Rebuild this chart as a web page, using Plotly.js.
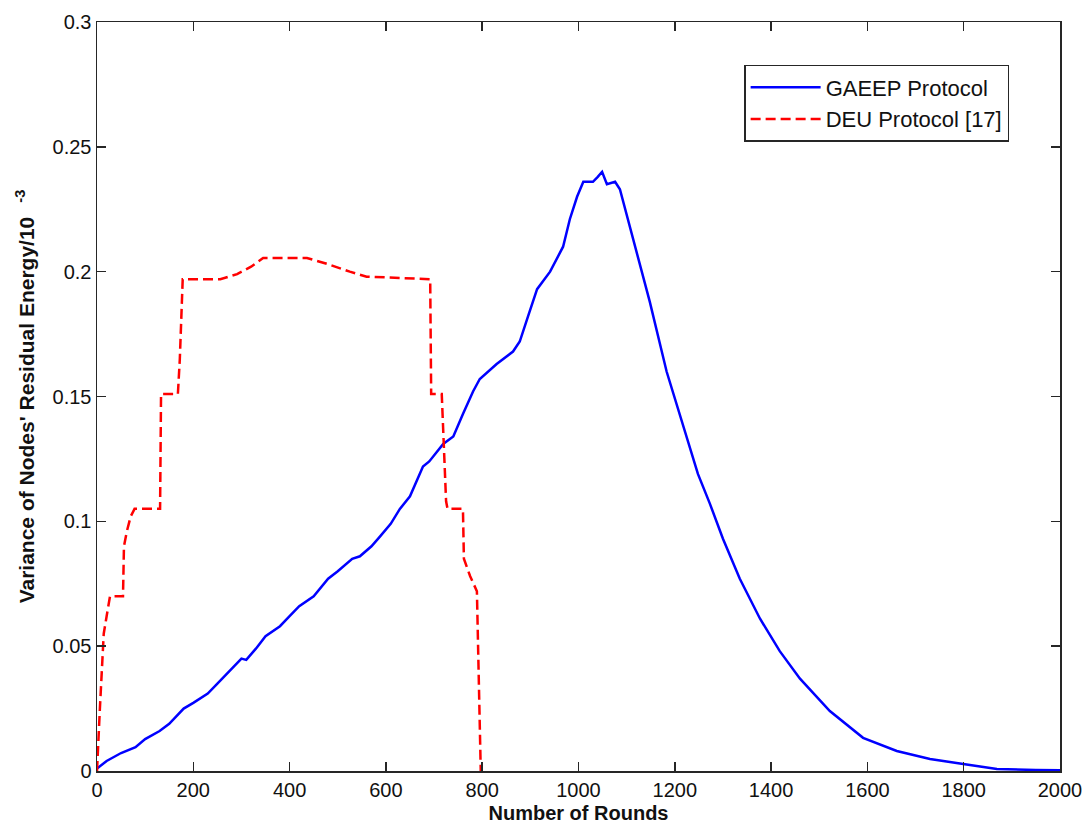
<!DOCTYPE html>
<html>
<head>
<meta charset="utf-8">
<script src="https://cdn.plot.ly/plotly-3.0.1.min.js"></script>
<style>html,body{margin:0;padding:0;background:#fff;}#chart{width:1089px;height:833px;}</style>
</head>
<body>
<div id="chart"></div>
<script>
const gaeepRounds = [0,20,50,80,100,130,150,180,200,230,250,280,300,310,330,350,380,400,420,450,480,500,530,546,570,588,610,629,650,677,690,719,740,760,781,795,830,864,878,895,914,941,968,982,997,1010,1030,1040,1049,1059,1076,1086,1100,1121,1148,1183,1217,1248,1273,1300,1335,1377,1418,1460,1522,1591,1661,1730,1799,1869,1950,2000];
const gaeepValues = [0.001,0.004,0.0072,0.0095,0.0128,0.016,0.0189,0.025,0.0273,0.031,0.035,0.041,0.045,0.0445,0.049,0.054,0.058,0.062,0.066,0.070,0.077,0.080,0.085,0.086,0.090,0.094,0.099,0.105,0.110,0.122,0.124,0.131,0.134,0.143,0.152,0.157,0.163,0.168,0.172,0.182,0.193,0.200,0.210,0.221,0.230,0.236,0.236,0.238,0.240,0.235,0.236,0.233,0.223,0.207,0.188,0.160,0.138,0.119,0.107,0.093,0.077,0.061,0.048,0.037,0.024,0.0133,0.008,0.0048,0.0028,0.0008,0.0004,0.0003];
const deuRounds = [0,3,6,10,14,20,27,54,56,62,70,78,131,133,168,172,176,178,256,291,320,345,436,480,525,560,692,694,716,722,725,728,760,762,775,789,791,797];
const deuValues = [0,0.01,0.025,0.04,0.055,0.062,0.07,0.07,0.09,0.096,0.102,0.105,0.105,0.151,0.151,0.165,0.182,0.197,0.197,0.199,0.202,0.2055,0.2055,0.203,0.200,0.198,0.197,0.151,0.151,0.122,0.108,0.105,0.105,0.085,0.078,0.072,0.051,0];
const xTickVals = [0,200,400,600,800,1000,1200,1400,1600,1800,2000];
const yTickVals = [0,0.05,0.1,0.15,0.2,0.25,0.3];
const yTickText = ["0","0.05","0.1","0.15","0.2","0.25","0.3"];

const axisCommon = {
  showline: true, linecolor: '#262626', linewidth: 1.5, mirror: 'ticks',
  ticks: 'inside', ticklen: 9, tickwidth: 1.5, tickcolor: '#262626',
  showgrid: false, zeroline: false,
  tickfont: {family: 'Liberation Sans, Arial, sans-serif', size: 20, color: '#111'}
};

const data = [
  {x: gaeepRounds, y: gaeepValues, type: 'scatter', mode: 'lines', name: 'GAEEP Protocol',
   line: {color: '#0000ff', width: 2.5}},
  {x: deuRounds, y: deuValues, type: 'scatter', mode: 'lines', name: 'DEU Protocol [17]',
   line: {color: '#ff0000', width: 2.5, dash: '10px,5px'}}
];

const layout = {
  width: 1089, height: 833,
  margin: {l: 97, r: 29, t: 22, b: 62},
  paper_bgcolor: '#fff', plot_bgcolor: '#fff',
  showlegend: true,
  legend: {x: 0.672, y: 0.9426, xanchor: 'left', yanchor: 'top',
    bordercolor: '#262626', borderwidth: 1.5, bgcolor: '#fff',
    font: {family: 'Liberation Sans, Arial, sans-serif', size: 22, color: '#111'},
    itemwidth: 70, tracegroupgap: 4},
  xaxis: Object.assign({}, axisCommon, {
    range: [0, 2000], tickvals: xTickVals,
    title: {text: 'Number of Rounds', standoff: 6,
      font: {family: 'Liberation Sans, Arial, sans-serif', size: 20, color: '#111', weight: 'bold'}}
  }),
  yaxis: Object.assign({}, axisCommon, {
    range: [0, 0.3], tickvals: yTickVals, ticktext: yTickText,
    title: {text: "<b>Variance of Nodes' Residual Energy/10 <sup>  -3</sup></b>", standoff: 12,
      font: {family: 'Liberation Sans, Arial, sans-serif', size: 21, color: '#111'}}
  })
};

Plotly.newPlot('chart', data, layout, {displayModeBar: false, staticPlot: true});
</script>
</body>
</html>
